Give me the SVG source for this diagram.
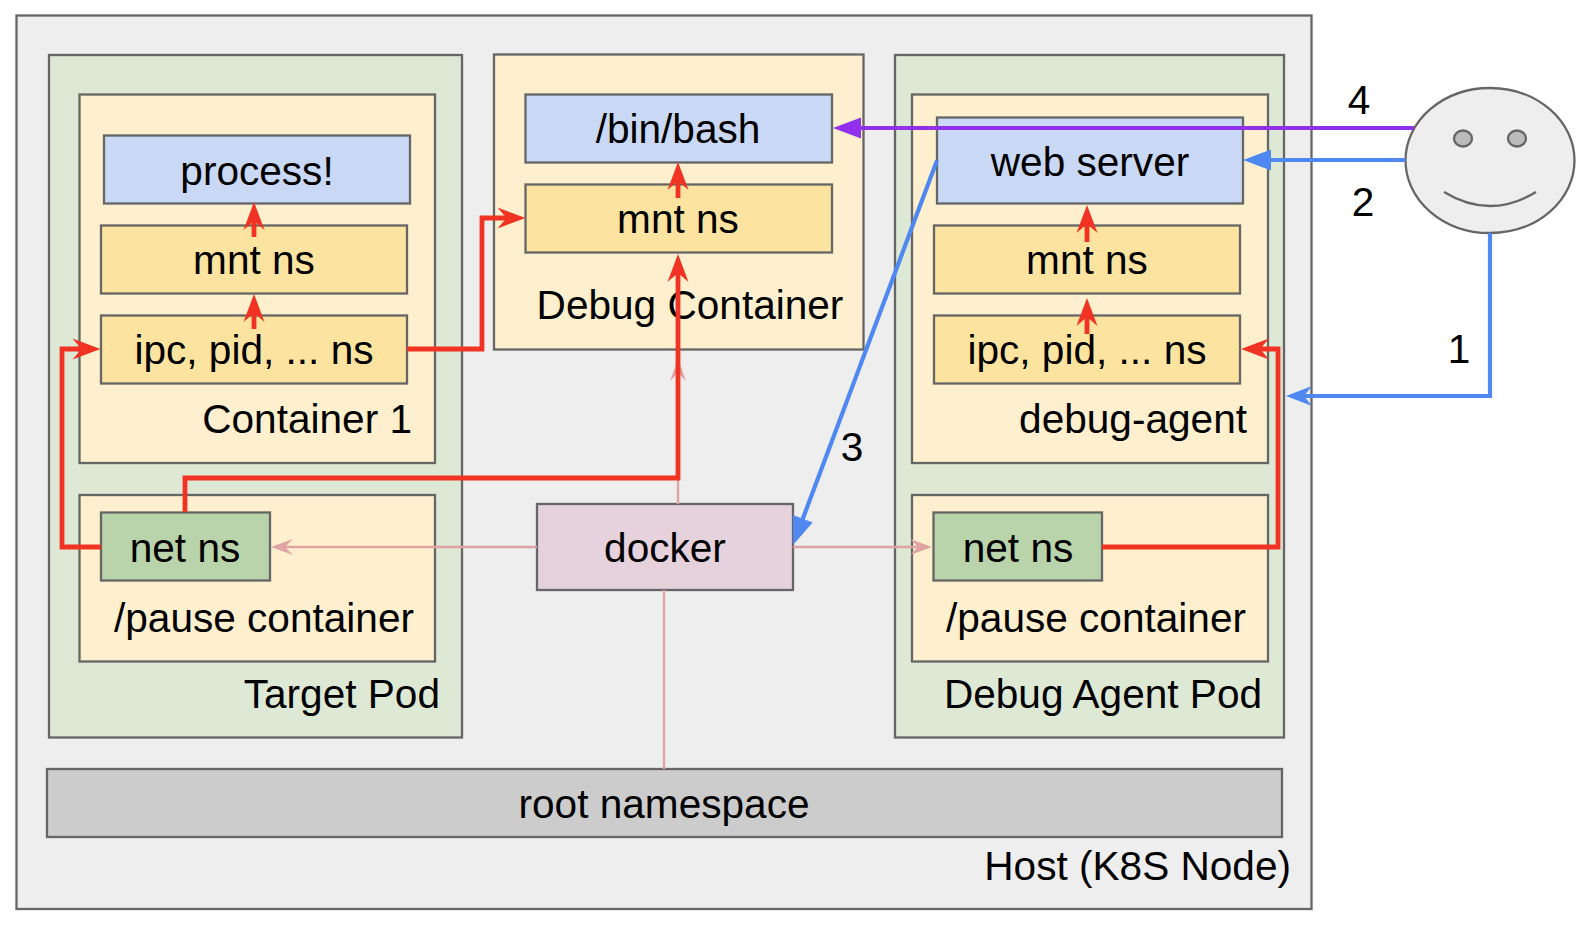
<svg xmlns="http://www.w3.org/2000/svg" width="1590" height="926" viewBox="0 0 1590 926">
<style>
text{font-family:"Liberation Sans",Arial,sans-serif;font-size:40.6px;fill:#000}
.m{text-anchor:middle}.e{text-anchor:end}
rect,ellipse{stroke:#666;stroke-width:2.3}
.pod{fill:#dde8d5}.ctr{fill:#fef0ce}.proc{fill:#c9d9f5}.ns{fill:#fce4a0}.net{fill:#b9d3aa}
.c{fill:none;stroke-linejoin:miter}
.r{stroke:#f03322;stroke-width:4.8;marker-end:url(#ar)}
.b{stroke:#4f88f0;stroke-width:4.2}
.p{stroke:#e0a3a3;stroke-width:2.4;marker-end:url(#ap)}
</style>
<defs>
<marker id="ar" markerUnits="userSpaceOnUse" markerWidth="40" markerHeight="30" refX="20" refY="15" orient="auto" overflow="visible"><path transform="translate(20 15)" d="M10,0L-18,-10.5L-9,0L-18,10.5Z" fill="#f03322"/></marker>
<marker id="ab" markerUnits="userSpaceOnUse" markerWidth="40" markerHeight="30" refX="20" refY="15" orient="auto" overflow="visible"><path transform="translate(20 15)" d="M10,0L-18,-10.5L-18,10.5Z" fill="#4f88f0"/></marker>
<marker id="ao" markerUnits="userSpaceOnUse" markerWidth="40" markerHeight="30" refX="20" refY="15" orient="auto" overflow="visible"><path transform="translate(20 15)" d="M10,0L-16,-10L-8,0L-16,10Z" fill="#4f88f0"/></marker>
<marker id="au" markerUnits="userSpaceOnUse" markerWidth="40" markerHeight="30" refX="20" refY="15" orient="auto" overflow="visible"><path transform="translate(20 15)" d="M10,0L-18,-10.5L-18,10.5Z" fill="#9130ea"/></marker>
<marker id="ap" markerUnits="userSpaceOnUse" markerWidth="40" markerHeight="30" refX="20" refY="15" orient="auto" overflow="visible"><path transform="translate(20 15)" d="M4,0L-18,-8L-10,0L-18,8Z" fill="#e0a3a3"/></marker>
</defs>
<g id="host"><rect x="16.5" y="15.5" width="1295" height="893.500" fill="#eee"/><text class="e" x="1291" y="880">Host (K8S Node)</text></g>
<g id="target-pod"><rect class="pod" x="49" y="55" width="413" height="682.500"/><text class="e" x="440" y="708">Target Pod</text></g>
<g id="container-1"><rect class="ctr" x="79.500" y="94.500" width="355.500" height="368.500"/><text class="e" x="412" y="433">Container 1</text></g>
<g id="process"><rect class="proc" x="104" y="135.500" width="306" height="68"/><text class="m" x="257" y="185">process!</text></g>
<g id="mnt-1"><rect class="ns" x="101" y="225.500" width="306" height="68"/><text class="m" x="254" y="274">mnt ns</text></g>
<g id="ipc-1"><rect class="ns" x="101" y="315.500" width="306" height="68"/><text class="m" x="254" y="364">ipc, pid, ... ns</text></g>
<g id="pause-1"><rect class="ctr" x="79.500" y="495" width="355.500" height="166.500"/><text class="m" x="264" y="632">/pause container</text></g>
<g id="net-1"><rect class="net" x="101" y="512.500" width="169" height="68"/><text class="m" x="185" y="562">net ns</text></g>
<g id="debug-container"><rect class="ctr" x="494" y="54.500" width="369.500" height="295"/><text class="m" x="690" y="319">Debug Container</text></g>
<g id="bash"><rect class="proc" x="525.500" y="94.500" width="306.500" height="68"/><text class="m" x="678" y="143">/bin/bash</text></g>
<g id="mnt-2"><rect class="ns" x="525.500" y="184.500" width="306.500" height="68"/><text class="m" x="678" y="233">mnt ns</text></g>
<g id="debug-agent-pod"><rect class="pod" x="895" y="55" width="389" height="682.500"/><text class="m" x="1103" y="708">Debug Agent Pod</text></g>
<g id="debug-agent"><rect class="ctr" x="912" y="94.500" width="356" height="368.500"/><text class="e" x="1247" y="433">debug-agent</text></g>
<g id="web-server"><rect class="proc" x="937" y="117.500" width="306" height="86"/><text class="m" x="1090" y="176">web server</text></g>
<g id="mnt-3"><rect class="ns" x="934" y="225.500" width="306" height="68"/><text class="m" x="1087" y="274">mnt ns</text></g>
<g id="ipc-3"><rect class="ns" x="934" y="315.500" width="306" height="68"/><text class="m" x="1087" y="364">ipc, pid, ... ns</text></g>
<g id="pause-3"><rect class="ctr" x="912" y="495" width="356" height="166.500"/><text class="m" x="1096" y="632">/pause container</text></g>
<g id="net-3"><rect class="net" x="933.500" y="512.500" width="168.500" height="68"/><text class="m" x="1018" y="562">net ns</text></g>
<g id="docker"><rect x="537" y="504" width="256" height="86" fill="#e6d2dc"/><text class="m" x="665" y="562">docker</text></g>
<g id="root-namespace"><rect x="47" y="769" width="1235" height="68" fill="#ccc"/><text class="m" x="664" y="818">root namespace</text></g>
<g id="user"><ellipse cx="1490" cy="160.500" rx="84.500" ry="72.500" fill="#eee"/><ellipse cx="1463" cy="138.500" rx="9" ry="8" fill="#bbb"/><ellipse cx="1517" cy="138.500" rx="9" ry="8" fill="#bbb"/><path d="M1444,192Q1490,220 1536,192" fill="none" stroke="#666" stroke-width="2.300"/></g>
<g id="connectors" class="c">
<path class="p" d="M678,504V363"/>
<path class="p" d="M537,547H275"/>
<path class="p" d="M793,547H928"/>
<path d="M664,590V769" stroke="#e0a3a3" stroke-width="2.400"/>
<path class="r" d="M254,237V212"/>
<path class="r" d="M254,329V304"/>
<path class="r" d="M678,198V172"/>
<path class="r" d="M1087,242V215"/>
<path class="r" d="M1087,334V308"/>
<path class="r" d="M101,547H62V349H90.500"/>
<path class="r" d="M407,349H482V218H515.500"/>
<path class="r" d="M185,512V478H678V264"/>
<path class="r" d="M1102,547H1278V349H1251"/>
<path class="b" d="M1490,233V396H1296" marker-end="url(#ao)"/>
<path class="b" d="M1405.500,160H1253" marker-end="url(#ab)"/>
<path class="b" d="M937,160.500L796.500,535.600" marker-end="url(#ab)"/>
<path d="M1414,128H843" stroke="#9130ea" stroke-width="4.200" marker-end="url(#au)"/>
</g>
<g id="labels">
<text class="m" x="1359" y="114">4</text>
<text class="m" x="1363" y="216">2</text>
<text class="m" x="1459" y="363">1</text>
<text class="m" x="852" y="461">3</text>
</g>
</svg>
